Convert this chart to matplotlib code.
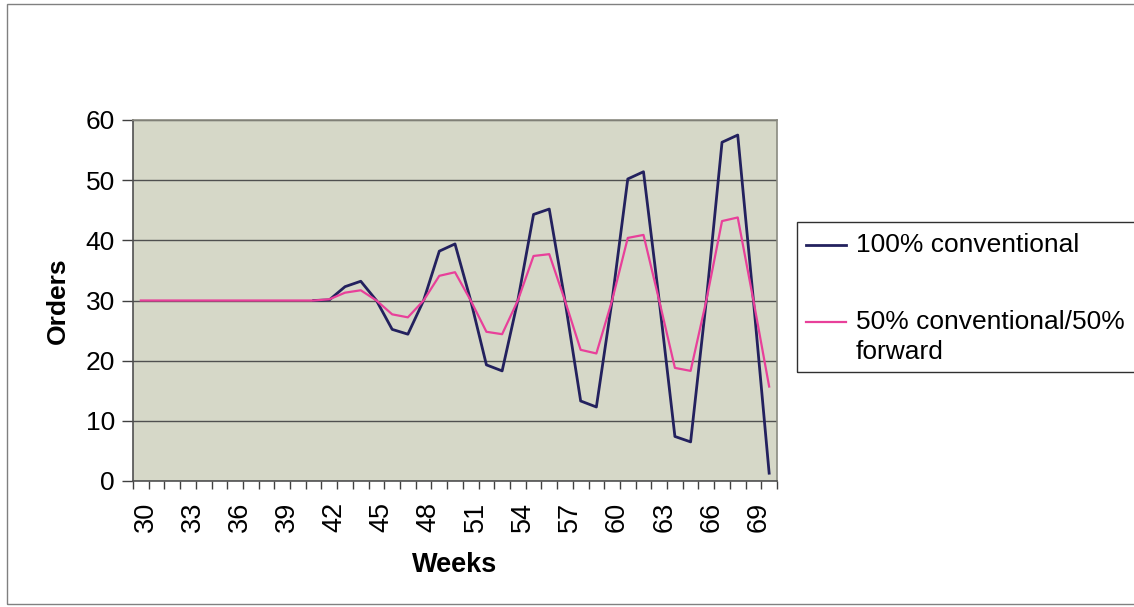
import matplotlib
matplotlib.use("Agg")
import matplotlib.pyplot as plt
from matplotlib.lines import Line2D
from matplotlib.patches import Rectangle
import matplotlib.transforms as mtransforms
import numpy as np

weeks = list(range(30, 71))
conventional = [30]*11 + [30, 30.1, 32.3, 33.2, 30, 25.2, 24.4, 30, 38.2, 39.4, 30,
                          19.3, 18.3, 30, 44.3, 45.2, 30, 13.3, 12.3, 30, 50.2, 51.4,
                          30, 7.4, 6.5, 30, 56.3, 57.5, 30, 1.3]
mixed = [30]*11 + [30, 30.2, 31.3, 31.7, 30, 27.7, 27.2, 30, 34.1, 34.7, 30,
                   24.8, 24.4, 30, 37.4, 37.7, 30, 21.8, 21.2, 30, 40.4, 40.9,
                   30, 18.8, 18.3, 30, 43.2, 43.8, 30, 15.7]
series_labels = ["100% conventional", "50% conventional/50%\nforward"]
tick_weeks = list(range(30, 70, 3))

plt.rcParams['font.family'] = ['Liberation Sans', 'DejaVu Sans']

W, H = 1134, 607
fig = plt.figure(figsize=(W/100, H/100), dpi=100)
fig.patch.set_facecolor('white')

BLUE = '#23215e'
PINK = '#e8409a'

# outer chart-area border
fig.add_artist(Rectangle((7/W, 3/H), 1.2, 1 - 4/H - 3/H, transform=fig.transFigure,
                         fill=False, edgecolor='#808080', linewidth=1.0))

ax = fig.add_axes([133/W, 1 - 481/H, (777-133)/W, (481-120)/H])
ax.set_facecolor('#d6d8c8')

x = np.arange(len(weeks))
ax.plot(x[11:], conventional[11:], color=BLUE, linewidth=2.0, zorder=3)
ax.plot(x, mixed, color=PINK, linewidth=1.6, zorder=4)

ax.set_xlim(-0.5, len(weeks) - 0.5)
ax.set_ylim(0, 60)
ax.set_yticks(range(0, 61, 10))
ax.yaxis.grid(True, color='#505050', linewidth=1.0)
ax.set_axisbelow(True)

ax.set_xticks([weeks.index(w) for w in tick_weeks])
ax.set_xticklabels([str(w) for w in tick_weeks], rotation=90, fontsize=19.5)
ax.set_xticks(np.arange(-0.5, len(weeks)), minor=True)
ax.tick_params(axis='x', which='major', length=0, pad=15)
ax.tick_params(axis='x', which='minor', length=6, width=1, color='#404040', direction='out')
ax.tick_params(axis='y', which='major', length=8, width=1, color='#404040', direction='out',
               labelsize=19, pad=5)
offset = mtransforms.ScaledTranslation(5/100, 0, fig.dpi_scale_trans)
for lab in ax.get_xticklabels():
    lab.set_transform(lab.get_transform() + offset)

for s in ['top', 'right']:
    ax.spines[s].set_color('#8a8a80')
    ax.spines[s].set_linewidth(1.2)
for s in ['left', 'bottom']:
    ax.spines[s].set_color('#505050')
    ax.spines[s].set_linewidth(1.2)

ax.set_xlabel('Weeks', fontsize=19.5, fontweight='bold', labelpad=14)
ax.set_ylabel('Orders', fontsize=19, fontweight='bold', labelpad=11)

# legend box (drawn in figure pixels)
def fx(px):
    return px / W

def fy(py):
    return 1 - py / H

fig.add_artist(Rectangle((fx(797), fy(372)), 1.0, (372 - 222) / H, transform=fig.transFigure,
                         fill=False, edgecolor='#303030', linewidth=1.0))
fig.add_artist(Line2D([fx(806), fx(846)], [fy(245), fy(245)], transform=fig.transFigure,
                      color=BLUE, linewidth=2.0))
fig.add_artist(Line2D([fx(806), fx(846)], [fy(322), fy(322)], transform=fig.transFigure,
                      color=PINK, linewidth=1.6))
fig.text(fx(856), fy(245), series_labels[0], fontsize=19, va='center', ha='left')
first, second = series_labels[1].split('\n')
fig.text(fx(856), fy(322), first, fontsize=19, va='center', ha='left')
fig.text(fx(856), fy(352), second, fontsize=19, va='center', ha='left')

fig.savefig('out.png', dpi=100, facecolor='white')
